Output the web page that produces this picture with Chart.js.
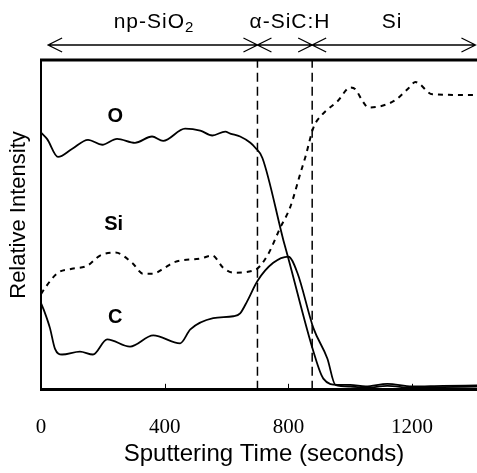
<!DOCTYPE html>
<html>
<head>
<meta charset="utf-8">
<script src="https://cdn.jsdelivr.net/npm/chart.js@4/dist/chart.umd.min.js"></script>
<style>
  html, body { margin: 0; padding: 0; background: #fff; }
  #wrap { width: 477px; height: 473px; }
</style>
</head>
<body>
<div id="wrap"><canvas id="chart"></canvas></div>
<script>
// sputtering time (s) and relative intensity (0-100, no scale shown)
const oTime = [0, 20, 55, 100, 152, 198, 246, 304, 359, 395, 466, 515, 554, 596, 612, 644, 677, 693, 716, 784, 800, 881, 913, 959, 1000, 1050, 1120, 1200, 1300, 1410];
const oIntensity = [78, 76, 70.6, 73, 75.8, 74.3, 76.1, 74.9, 76.8, 75.5, 79.2, 78.6, 77.1, 78.3, 77.7, 76.8, 74.9, 73.4, 70.3, 45.3, 39.8, 11.6, 3.4, 1.5, 1.5, 1.0, 1.8, 1.0, 1.2, 1.3];

const cTime = [0, 10, 29, 45, 68, 126, 168, 214, 288, 363, 450, 483, 557, 622, 644, 667, 700, 751, 800, 829, 881, 926, 952, 1000, 1050, 1120, 1200, 1300, 1410];
const cIntensity = [26.3, 24, 18.7, 12.5, 10.7, 11.6, 10.7, 15.3, 13.1, 16.5, 14.1, 18.3, 21.7, 22.3, 23.2, 26.9, 33.0, 38.5, 40.4, 35.5, 18.7, 9.5, 1.5, 1.0, 0.6, 1.2, 0.6, 0.8, 1.0];

const siTime = [0, 13, 55, 100, 149, 191, 240, 295, 330, 363, 395, 434, 515, 554, 589, 622, 693, 732, 774, 806, 839, 855, 881, 910, 959, 1001, 1017, 1040, 1059, 1140, 1185, 1211, 1266, 1389, 1410];
const siIntensity = [29, 30.9, 35.5, 36.7, 37.6, 40.7, 41.6, 38.5, 35.2, 35.2, 36.7, 38.8, 39.8, 40.7, 37.0, 35.5, 36.4, 40.7, 49.2, 55.4, 65.7, 70.6, 79.5, 83.5, 87.5, 91.7, 91.1, 87.5, 85.6, 87.5, 91.1, 93.3, 89.6, 89.4, 89.4];

const interfaceTimes = [700, 877];
const xTicks = [0, 400, 800, 1200];
const layerNames = ['np-SiO', '\u03b1-SiC:H', 'Si'];
const layerBounds = [23, 700, 877, 1405];
const curveLabels = ['O', 'Si', 'C'];
const curveLabelPos = [[240, 83], [235, 50], [240, 22]];

const toPoints = (xs, ys) => xs.map((x, i) => ({ x: x, y: ys[i] }));

const datasets = [
  { label: 'O', data: toPoints(oTime, oIntensity), borderColor: '#000', borderWidth: 1.8, pointRadius: 0, cubicInterpolationMode: 'monotone' },
  { label: 'C', data: toPoints(cTime, cIntensity), borderColor: '#000', borderWidth: 1.8, pointRadius: 0, cubicInterpolationMode: 'monotone' },
  { label: 'Si', data: toPoints(siTime, siIntensity), borderColor: '#000', borderWidth: 2, borderDash: [5, 5], pointRadius: 0, cubicInterpolationMode: 'monotone' }
];
interfaceTimes.forEach(t => {
  datasets.push({ label: 'interface', data: [{ x: t, y: 0 }, { x: t, y: 100 }], borderColor: '#000', borderWidth: 1.5, borderDash: [9, 5], pointRadius: 0 });
});

const sans = '"Liberation Sans", Arial, sans-serif';

const annotations = {
  id: 'annotations',
  afterDraw(chart) {
    const ctx = chart.ctx;
    const xs = chart.scales.x;
    const ys = chart.scales.y;
    const area = chart.chartArea;
    ctx.save();
    ctx.strokeStyle = '#000';
    ctx.fillStyle = '#000';

    // top frame line
    ctx.lineWidth = 3;
    ctx.beginPath();
    ctx.moveTo(area.left - 1, area.top);
    ctx.lineTo(area.right, area.top);
    ctx.stroke();

    // inward ticks on x axis
    ctx.lineWidth = 1;
    xTicks.slice(1).forEach(v => {
      const px = Math.round(xs.getPixelForValue(v)) + 0.5;
      ctx.beginPath();
      ctx.moveTo(px, area.bottom);
      ctx.lineTo(px, area.bottom - 6);
      ctx.stroke();
    });

    // layer arrows
    const ay = 45;
    ctx.lineWidth = 1.3;
    for (let i = 0; i < 3; i++) {
      const x1 = xs.getPixelForValue(layerBounds[i]);
      const x2 = xs.getPixelForValue(layerBounds[i + 1]);
      ctx.beginPath();
      ctx.moveTo(x1, ay); ctx.lineTo(x2, ay);
      ctx.moveTo(x1 + 14, ay - 7); ctx.lineTo(x1, ay); ctx.lineTo(x1 + 14, ay + 7);
      ctx.moveTo(x2 - 14, ay - 7); ctx.lineTo(x2, ay); ctx.lineTo(x2 - 14, ay + 7);
      ctx.stroke();
    }

    // layer names
    ctx.letterSpacing = '1px';
    ctx.textBaseline = 'alphabetic';
    ctx.textAlign = 'left';
    ctx.font = '21px ' + sans;
    const n0 = ctx.measureText(layerNames[0]).width;
    ctx.font = '15px ' + sans;
    const sub = ctx.measureText('2').width;
    const sx = 154 - (n0 + sub) / 2;
    ctx.font = '21px ' + sans;
    ctx.fillText(layerNames[0], sx, 28);
    ctx.font = '15px ' + sans;
    ctx.fillText('2', sx + n0, 32);
    ctx.font = '21px ' + sans;
    ctx.textAlign = 'center';
    ctx.fillText(layerNames[1], 290, 28);
    ctx.fillText(layerNames[2], 392, 28);
    ctx.letterSpacing = '0px';

    // curve labels
    ctx.font = 'bold 20px ' + sans;
    ctx.textBaseline = 'middle';
    curveLabels.forEach((t, i) => {
      ctx.fillText(t, xs.getPixelForValue(curveLabelPos[i][0]), ys.getPixelForValue(curveLabelPos[i][1]));
    });

    // axis titles
    ctx.font = '24px ' + sans;
    ctx.fillText('Sputtering Time (seconds)', 264, 454);
    ctx.translate(19, 215);
    ctx.rotate(-Math.PI / 2);
    ctx.font = '22px ' + sans;
    ctx.fillText('Relative Intensity', 0, 0);
    ctx.restore();
  }
};

new Chart(document.getElementById('chart'), {
  type: 'line',
  data: { datasets: datasets },
  options: {
    responsive: true,
    maintainAspectRatio: false,
    animation: false,
    events: [],
    layout: { padding: { top: 60, left: 41, right: 0, bottom: 8 } },
    plugins: { legend: { display: false }, tooltip: { enabled: false } },
    scales: {
      x: {
        type: 'linear',
        min: 0,
        max: 1410,
        afterBuildTicks: axis => { axis.ticks = xTicks.map(v => ({ value: v })); },
        grid: { display: true, drawOnChartArea: false, drawTicks: false },
        border: { color: '#000', width: 3 },
        ticks: { color: '#000', padding: 25, maxRotation: 0, callback: v => String(v), font: { family: '"Liberation Serif", "Times New Roman", serif', size: 21 } }
      },
      y: {
        min: 0,
        max: 100,
        grid: { display: true, drawOnChartArea: false, drawTicks: false },
        border: { color: '#000', width: 2 },
        ticks: { display: false }
      }
    }
  },
  plugins: [annotations]
});
</script>
</body>
</html>
